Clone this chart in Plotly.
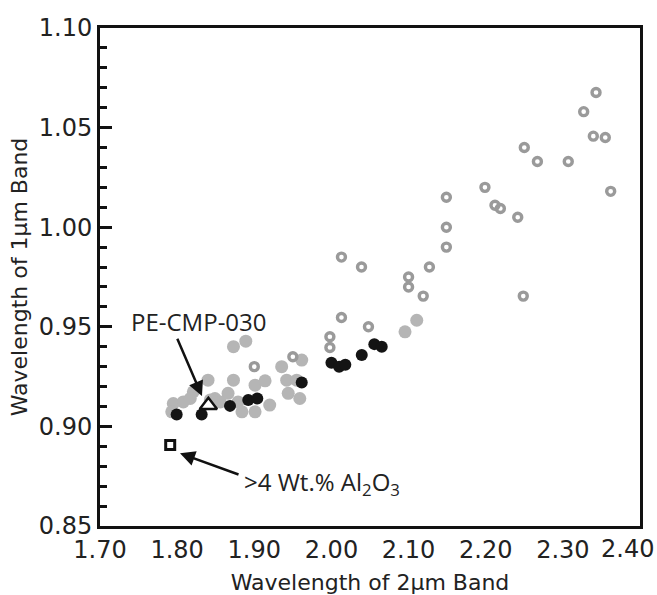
import plotly.graph_objects as go

# light gray filled circles
gray_x = [1.795, 1.793, 1.808, 1.821, 1.840, 1.849, 1.873, 1.866, 1.879, 1.884, 1.901, 1.901,
          1.914, 1.920, 1.9355, 1.942, 1.955, 1.944, 1.959, 1.9615, 1.873, 1.889, 1.817, 1.843,
          1.856, 2.0954, 2.1106]
gray_y = [0.9115, 0.9073, 0.9123, 0.9174, 0.9232, 0.914, 0.9232, 0.9166, 0.9123, 0.9073, 0.9073, 0.9207,
          0.9229, 0.9107, 0.930, 0.9232, 0.9232, 0.9166, 0.914, 0.9333, 0.940, 0.9428, 0.914, 0.9133,
          0.9123, 0.9475, 0.9533]

# gray open circles
ring_x = [1.900, 1.950, 1.998, 1.998, 2.013, 2.048, 2.013, 2.039, 2.100, 2.100, 2.119, 2.127,
          2.149, 2.149, 2.149, 2.199, 2.212, 2.219, 2.2415, 2.2487, 2.250, 2.267, 2.307, 2.327,
          2.343, 2.3395, 2.355, 2.362]
ring_y = [0.930, 0.935, 0.945, 0.9396, 0.9547, 0.950, 0.985, 0.980, 0.975, 0.970, 0.9654, 0.980,
          1.015, 1.000, 0.990, 1.020, 1.011, 1.0094, 1.005, 0.9654, 1.040, 1.033, 1.033, 1.058,
          1.0676, 1.0457, 1.045, 1.018]

# black filled circles
black_x = [1.7994, 1.8318, 1.8685, 1.8922, 1.9039, 1.9615, 2.000, 2.010, 2.018, 2.0393, 2.0556, 2.0652]
black_y = [0.906, 0.906, 0.9103, 0.9132, 0.914, 0.922, 0.932, 0.930, 0.931, 0.9358, 0.9413, 0.940]

# special samples
tri_x, tri_y = [1.8405], [0.9106]
sq_x, sq_y = [1.791], [0.8906]

x_ticks = [1.70, 1.80, 1.90, 2.00, 2.10, 2.20, 2.30, 2.40]
y_ticks = [0.85, 0.90, 0.95, 1.00, 1.05, 1.10]

fig = go.Figure()
fig.add_trace(go.Scatter(x=gray_x, y=gray_y, mode="markers",
                         marker=dict(symbol="circle", size=13, color="#b5b5b5", line=dict(width=0))))
fig.add_trace(go.Scatter(x=ring_x, y=ring_y, mode="markers",
                         marker=dict(symbol="circle-open", size=8, color="#9a9a9a",
                                     line=dict(width=3.4, color="#9a9a9a"))))
fig.add_trace(go.Scatter(x=black_x, y=black_y, mode="markers",
                         marker=dict(symbol="circle", size=12, color="#141414", line=dict(width=0))))
fig.add_trace(go.Scatter(x=tri_x, y=tri_y, mode="markers",
                         marker=dict(symbol="triangle-up", size=15, color="white",
                                     line=dict(width=2.5, color="#111111"))))
fig.add_trace(go.Scatter(x=sq_x, y=sq_y, mode="markers",
                         marker=dict(symbol="square", size=9, color="white",
                                     line=dict(width=3, color="#111111"))))

tick_font = dict(family="DejaVu Sans", size=24, color="#222222")
title_font = dict(family="DejaVu Sans", size=22, color="#222222")
ann_font = dict(family="Open Sans", size=24, color="#222222")

x_text = [f"{v:.2f}" for v in x_ticks]
x_text[-1] = ""  # last label is drawn shifted inward below

fig.update_layout(
    width=657, height=595,
    margin=dict(l=100, r=17, t=28, b=69),
    paper_bgcolor="white", plot_bgcolor="white",
    showlegend=False,
    xaxis=dict(range=[1.70, 2.40], tickvals=x_ticks, ticktext=x_text, automargin=False,
               ticks="", showgrid=False, zeroline=False, showline=True, mirror=True,
               linewidth=3, linecolor="#111111", tickfont=tick_font,
               title=dict(text="Wavelength of 2µm Band", font=title_font, standoff=12)),
    yaxis=dict(range=[0.85, 1.10], tickvals=y_ticks, ticktext=[f"{v:.2f}" for v in y_ticks],
               automargin=False,
               ticks="inside", ticklen=12, tickwidth=3, tickcolor="#111111",
               minor=dict(dtick=0.01, ticks="inside", ticklen=7, tickwidth=2.5, tickcolor="#111111",
                          showgrid=False),
               showgrid=False, zeroline=False, showline=True, mirror=True,
               linewidth=3, linecolor="#111111", tickfont=tick_font,
               title=dict(text="Wavelength of 1µm Band", font=title_font, standoff=6)),
)

# last x tick label, pulled inward so it stays inside the figure
fig.add_annotation(x=x_ticks[-1], xref="x", y=0, yref="paper", text=f"{x_ticks[-1]:.2f}",
                   showarrow=False, font=tick_font, xanchor="right", xshift=16,
                   yanchor="middle", yshift=-23)

# annotation arrows (head at x,y ; tail at ax,ay in data units)
fig.add_annotation(x=1.8322, y=0.9152, ax=1.7994, ay=0.9448, axref="x", ayref="y",
                   text="", showarrow=True, arrowhead=2, arrowsize=1.2, arrowwidth=2.5,
                   arrowcolor="#111111")
fig.add_annotation(x=1.8283, y=0.9528, text="PE-CMP-030", showarrow=False, font=ann_font,
                   xanchor="center", yanchor="middle")
fig.add_annotation(x=1.8037, y=0.8865, ax=1.8815, ay=0.8756, axref="x", ayref="y",
                   text="", showarrow=True, arrowhead=2, arrowsize=1.2, arrowwidth=2.5,
                   arrowcolor="#111111")
fig.add_annotation(x=1.8840, y=0.8716, text=">4 Wt.% Al<sub>2</sub>O<sub>3</sub>", showarrow=False,
                   font=ann_font, xanchor="left", yanchor="middle")

fig.write_html("out.html")
